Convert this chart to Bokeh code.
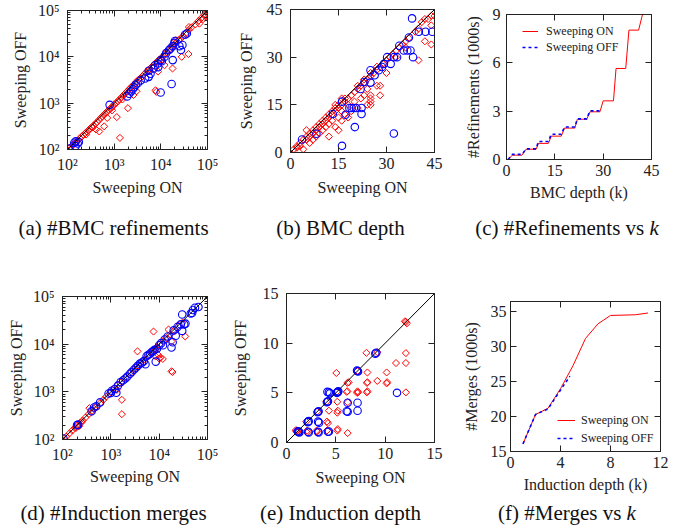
import numpy as np
from bokeh.plotting import figure
from bokeh.models import Range1d, FixedTicker, LinearAxis, LogAxis, Legend, LegendItem, Div
from bokeh.layouts import column, row
from bokeh.embed import file_html
from bokeh.resources import INLINE

FONT = "Liberation Serif"
RED = "#ff0000"
BLUE = "#0000ff"
INK = "#222222"

# ---------------- data ----------------
# (a) #BMC refinements (log-log)
a_red_on = [105, 110, 120, 130, 140, 150, 160, 170, 185, 200, 220, 240, 260, 280, 300, 330, 360, 400, 430, 470,
            520, 560, 600, 650, 700, 760, 820, 880, 950, 1000, 1100, 1200, 1300, 1450, 1600, 1750, 1900, 2100, 2300,
            2500, 2800, 3000, 3300, 3600, 4000, 4400, 4800, 5300, 5800, 6300, 7000, 7600, 8300, 9000, 10000, 11000,
            12000, 13500, 15000, 17000, 19000, 21000, 24000, 27000, 30000, 35000, 40000, 45000, 55000, 65000, 75000,
            85000, 95000, 90000, 80000,
            1330, 1140, 1970, 480, 410, 610, 710, 2600, 3000, 7700, 8000, 17800, 39000, 28000, 12000, 10200, 8700,
            67000, 40000, 21000, 5500, 350, 250, 900, 1500]
a_red_off = [105, 108, 115, 125, 135, 140, 150, 160, 175, 190, 205, 225, 240, 255, 280, 300, 330, 360, 390, 430,
             480, 520, 560, 600, 650, 700, 760, 800, 870, 950, 1000, 1100, 1200, 1350, 1500, 1650, 1800, 2000, 2200,
             2400, 2600, 2900, 3200, 3400, 3800, 4200, 4600, 5000, 5500, 6000, 6600, 7200, 7800, 8500, 9300, 10000,
             11500, 12500, 14000, 16000, 18000, 20000, 23000, 25000, 28000, 33000, 38000, 43000, 50000, 60000, 70000,
             80000, 90000, 75000, 65000,
             178, 500, 780, 245, 270, 316, 480, 1500, 1800, 1900, 1750, 5600, 11500, 10000, 6600, 8500, 4800,
             52000, 44000, 23000, 5200, 300, 210, 700, 1200]
a_blue_on = [110, 140, 150, 148, 165, 175, 800, 1900, 2100, 2300, 2500, 2700, 2900, 3200, 3700, 4600, 5500, 6000,
             5500, 7000, 7500, 8700, 8800, 10000, 10500, 12000, 13000, 15000, 16000, 18000, 19500, 20000, 25000,
             29000, 27000, 33000, 36000, 18000, 9900, 17000]
a_blue_off = [105, 140, 150, 118, 135, 145, 920, 1400, 1600, 1800, 2000, 2200, 2500, 2700, 3100, 3400, 3700, 4300,
              5000, 5600, 6600, 7200, 6000, 8500, 8000, 10000, 12000, 14000, 15000, 17000, 20000, 22000, 17000,
              18000, 14000, 30000, 32000, 8500, 1700, 2600]

# (b) BMC depth
b_red_on = [1, 2, 2, 3, 3, 4, 5, 5, 6, 6, 7, 7, 8, 8, 9, 9, 10, 10, 11, 11, 12, 12, 13, 13, 14, 14, 15, 15, 16, 17,
            17, 18, 19, 20, 21, 21, 22, 23, 23, 24, 25, 25, 26, 27, 27, 28, 29, 30, 31, 32, 33, 34, 35, 36, 37, 39,
            40, 41, 42, 43, 44, 45, 44,
            4, 6, 7, 8, 9, 10, 11, 12, 12, 13, 14, 15, 15, 16, 16, 17, 18, 18, 19, 20, 21, 22, 23, 24, 24, 25, 25,
            25, 25, 28, 28, 27, 30, 33, 40, 42, 44, 36, 5, 14, 16]
b_red_off = [1, 1.5, 2, 3, 2, 4, 4, 5, 5, 6, 6, 7, 7, 8, 8, 9, 9, 10, 10, 11, 11, 12, 12, 13, 13, 14, 14, 15, 15, 16,
             17, 17, 18, 19, 20, 21, 21, 22, 23, 23, 24, 25, 25, 26, 27, 27, 28, 29, 30, 31, 32, 33, 34, 35, 36, 38,
             39, 41, 42, 42, 43, 43, 40,
             1, 3, 4, 5, 6, 7, 8, 5, 9, 10, 8, 7, 11, 10, 13, 12, 11, 15, 13, 16, 14, 17, 18, 15, 20, 16, 17,
             15, 18, 18, 21, 21, 25, 30, 29, 35, 34, 33, 7, 15, 17]
b_blue_on = [3.6, 8.1, 16.1, 20.1, 32.3, 13.2, 16.1, 17.2, 18.4, 19.1, 19.8, 20.5, 22.2, 22.2, 21.9, 23.1, 25.0,
             25.0, 26.3, 27.6, 28.6, 29.2, 30.2, 31.3, 32.3, 33.3, 34.0, 35.4, 36.5, 37.5, 37.0, 38.3, 38.0, 40.1,
             42.2, 44.3]
b_blue_off = [4.1, 5.9, 2.1, 8.0, 6.0, 12.1, 16.0, 11.9, 14.0, 14.0, 14.0, 14.0, 14.0, 12.1, 20.0, 22.2, 22.0,
              25.9, 24.3, 25.9, 26.9, 27.9, 30.0, 27.9, 30.0, 30.0, 33.6, 32.1, 32.1, 32.1, 36.2, 30.0, 42.2, 38.0,
              38.0, 38.0]

# (c) #Refinements vs k
c_k_on = [0.5, 1.8, 4.8, 6.1, 9.2, 9.9, 13.0, 13.9, 17.0, 18.0, 21.2, 22.0, 24.9, 25.9, 29.0, 30.0, 33.2, 34.0,
          37.0, 38.0, 41.0, 42.2]
c_ref_on = [0, 0.27, 0.27, 0.64, 0.64, 1.0, 1.0, 1.45, 1.45, 1.95, 1.95, 2.5, 2.5, 2.96, 2.96, 3.64, 3.64, 5.65,
            5.65, 8.03, 8.03, 9.0]
c_k_off = [0.5, 1.8, 4.8, 6.1, 9.2, 9.9, 13.0, 13.9, 17.0, 18.0, 21.2, 22.0, 24.9, 25.9, 29.0]
c_ref_off = [0, 0.32, 0.32, 0.66, 0.66, 1.12, 1.12, 1.57, 1.57, 2.02, 2.02, 2.52, 2.52, 3.02, 3.02]

# (d) #Induction merges (log-log)
d_red_on = [105, 120, 140, 160, 180, 200, 230, 260, 300, 350, 400, 450, 500, 600, 700, 800, 1000, 1200, 1400, 1700,
            2000, 2500, 3000, 3500, 4000, 5000, 6000, 7000, 8000, 9000, 10000, 12000, 14000, 17000, 20000, 25000,
            30000, 9500, 10000, 8500,
            7640, 3560, 1690, 1690, 18900, 18000, 34600, 11900, 10600, 18000, 15600, 360, 1330, 250, 220, 190]
d_red_off = [105, 115, 135, 155, 175, 195, 225, 250, 290, 340, 390, 440, 490, 580, 680, 790, 980, 1200, 1400, 1650,
             2000, 2500, 3000, 3400, 4000, 4800, 5800, 6800, 7800, 8500, 9800, 11500, 13500, 16000, 19000, 24000,
             28000, 6000, 5000, 5500,
             18400, 7060, 680, 340, 2600, 2700, 14500, 4900, 5200, 11400, 20300, 455, 1100, 230, 190, 175]
d_blue_on = [105, 200, 210, 400, 450, 500, 600, 900, 1000, 1050, 1200, 1300, 1400, 1600, 1800, 2000, 2200, 2500,
             2700, 3000, 3300, 3600, 4000, 4400, 4800, 5200, 5500, 6000, 6500, 7000, 7500, 8000, 8500, 9000, 10000,
             11000, 12000, 13000, 15000, 18000, 19000, 20000, 22000, 24000, 28000, 30000, 30000, 33000, 35000,
             45000, 50000, 55000, 65000, 48000]
d_blue_off = [105, 200, 205, 390, 470, 500, 600, 920, 950, 1050, 1150, 960, 1350, 1600, 1750, 1900, 2100, 2400,
              2600, 2900, 3200, 3500, 3900, 4100, 4400, 3800, 5600, 6000, 6300, 6800, 7200, 7600, 4300, 8000, 9500,
              10500, 9500, 12500, 14500, 8500, 11000, 19500, 15000, 23000, 26000, 19000, 42000, 26000, 27000,
              44000, 52000, 58000, 60000, 45000]

# (e) Induction depth
e_red_on = [1.0, 1.05, 0.95, 2.1, 2.1, 3.1, 3.05, 4.1, 4.1, 4.2, 5.15, 5.2, 6.2, 4.3, 5.2, 5.15, 6.2, 5.15, 6.17,
            6.1, 7.2, 7.25, 7.15, 8.2, 8.15, 8.2, 8.15, 10.2, 10.15, 9.2, 6.17, 6.3, 5.05, 8.2, 10.15, 8.1, 11.1,
            12.1, 12.1, 12.1, 12.1, 12.0, 12.2, 2.0, 3.1, 4.05, 5.1, 7.2, 9.2, 1.1]
e_red_off = [1.1, 1.2, 1.25, 1.2, 1.0, 1.1, 1.2, 1.2, 2.1, 1.95, 1.2, 1.35, 0.95, 3.2, 3.2, 3.0, 4.05, 4.1, 5.15,
             5.1, 5.15, 5.05, 5.0, 5.15, 5.05, 6.07, 6.0, 6.07, 5.95, 6.2, 6.0, 6.05, 7.0, 7.05, 7.05, 9.03, 8.0,
             8.0, 9.0, 5.05, 12.13, 12.2, 12.0, 2.1, 3.1, 4.1, 5.1, 7.2, 9.1, 1.05]
e_blue_on = [1.2, 1.25, 1.3, 1.15, 2.2, 2.25, 3.2, 3.25, 4.2, 4.3, 2.2, 2.25, 2.15, 3.2, 3.25, 3.15, 3.2, 3.3, 4.15,
             4.2, 4.1, 4.15, 4.3, 4.4, 5.15, 5.2, 5.1, 5.25, 6.2, 6.2, 6.1, 7.2, 7.2, 7.2, 7.25, 7.15, 9.1, 9.0, 11.2]
e_blue_off = [1.05, 1.1, 1.0, 1.12, 1.08, 1.0, 1.08, 1.0, 1.08, 1.1, 2.1, 2.15, 2.05, 3.1, 3.15, 3.05, 2.1, 2.0,
              4.1, 4.15, 4.05, 5.1, 5.05, 4.95, 5.05, 5.1, 5.0, 5.15, 4.0, 3.1, 3.15, 4.0, 3.2, 7.2, 7.15, 7.25,
              9.03, 8.95, 5.0]

# (f) #Merges vs k
f_k_on = [1, 2, 3, 4, 5, 6, 7, 8, 10, 11]
f_mer_on = [16.1, 20.3, 21.2, 24.0, 27.3, 31.2, 33.3, 34.5, 34.6, 34.85]
f_k_off = [1, 2, 3, 4, 4.75]
f_mer_off = [16.1, 20.3, 21.1, 23.8, 25.8]

LOG_MAJOR = [100, 1000, 10000, 100000]
LOG_MINOR = [m * 10 ** e for e in range(2, 5) for m in range(2, 10)]
LOG_LABELS = {100: "10²", 1000: "10³", 10000: "10⁴", 100000: "10⁵"}


# ---------------- helpers ----------------
def make_fig(w, h, l, r, t, b, xr, yr, log=False):
    kind = "log" if log else "linear"
    p = figure(width=w, height=h, min_border_left=l, min_border_right=r, min_border_top=t,
               min_border_bottom=b, x_range=xr, y_range=yr, x_axis_type=kind, y_axis_type=kind,
               output_backend="svg", toolbar_location=None)
    p.frame_align = False
    p.grid.visible = False
    p.outline_line_color = INK
    p.outline_line_width = 1
    p.outline_line_alpha = 1
    p.background_fill_color = "white"
    p.border_fill_color = "white"
    return p


def style_axis(ax, ticks, minor=None, labels=None, standoff=5, label=None, lstand=8, show=True):
    ax.ticker = FixedTicker(ticks=ticks, minor_ticks=minor or [])
    ax.major_tick_in = 6
    ax.major_tick_out = 0
    ax.minor_tick_in = 3
    ax.minor_tick_out = 0
    ax.major_tick_line_color = INK
    ax.minor_tick_line_color = INK if minor else None
    ax.axis_line_color = INK
    ax.major_label_text_font = FONT
    ax.major_label_text_font_size = "16px"
    ax.major_label_text_color = INK
    ax.major_label_standoff = standoff
    if labels:
        ax.major_label_overrides = labels
    if label:
        ax.axis_label = label
        ax.axis_label_text_font = FONT
        ax.axis_label_text_font_size = "16px"
        ax.axis_label_text_font_style = "normal"
        ax.axis_label_text_color = INK
        ax.axis_label_standoff = lstand
    if not show:
        ax.major_label_text_font_size = "2px"
        ax.major_label_text_color = None
        ax.major_label_standoff = 0


def add_axes(p, xt, yt, xminor=None, yminor=None, xlabels=None, ylabels=None, xlabel="", ylabel="",
             xs=5, ys=5, xls=6, yls=8, log=False):
    style_axis(p.xaxis[0], xt, xminor, xlabels, xs, xlabel, xls)
    style_axis(p.yaxis[0], yt, yminor, ylabels, ys, ylabel, yls)
    Ax = LogAxis if log else LinearAxis
    top = Ax()
    right = Ax()
    style_axis(top, xt, xminor, show=False)
    style_axis(right, yt, yminor, show=False)
    p.add_layout(top, "above")
    p.add_layout(right, "right")


def diamonds(p, x, y):
    p.scatter(x, y, marker="square", angle=np.pi / 4, size=5, fill_color=None, line_color=RED, line_width=1)


def circles(p, x, y):
    p.scatter(x, y, marker="circle", size=7.5, fill_color=None, line_color=BLUE, line_width=1.1)


def diag(p, lo, hi):
    p.line([lo, hi], [lo, hi], line_color="black", line_width=1)


def caption(html, w, h):
    return Div(text=html, width=w, height=h, margin=0,
               styles={"font-family": FONT, "font-size": "21px", "text-align": "center",
                       "line-height": "%dpx" % h, "color": "#111111"})


# ---------------- (a) ----------------
fa = make_fig(227, 213, 67, 20, 10, 64, Range1d(100, 100000), Range1d(100, 100000), log=True)
diamonds(fa, a_red_on, a_red_off)
circles(fa, a_blue_on, a_blue_off)
diag(fa, 100, 100000)
add_axes(fa, LOG_MAJOR, LOG_MAJOR, LOG_MINOR, LOG_MINOR, LOG_LABELS, LOG_LABELS,
         "Sweeping ON", "Sweeping OFF", xs=6, ys=8, xls=3, yls=6, log=True)

# ---------------- (b) ----------------
fb = make_fig(227, 213, 63, 20, 9, 61, Range1d(0, 45), Range1d(0, 45))
diamonds(fb, b_red_on, b_red_off)
circles(fb, b_blue_on, b_blue_off)
diag(fb, 0, 45)
add_axes(fb, [0, 15, 30, 45], [0, 15, 30, 45], xlabel="Sweeping ON", ylabel="Sweeping OFF",
         xs=5, ys=8, xls=7, yls=9)

# ---------------- (c) ----------------
fc = make_fig(226, 213, 52, 29, 14, 54, Range1d(0, 45), Range1d(0, 9))
rc1 = fc.line(c_k_on, c_ref_on, line_color=RED, line_width=1)
rc2 = fc.line(c_k_off, c_ref_off, line_color=BLUE, line_width=1.6, line_dash="3 3")
add_axes(fc, [0, 15, 30, 45], [0, 3, 6, 9], xlabel="BMC depth (k)", ylabel="#Refinements (1000s)",
         xs=5, ys=6, xls=5, yls=8)
leg_c = Legend(items=[LegendItem(label="Sweeping ON", renderers=[rc1]),
                      LegendItem(label="Sweeping OFF", renderers=[rc2])],
               location=(16, 104), border_line_color=None, background_fill_alpha=0, padding=0, margin=0,
               spacing=0, glyph_width=16, glyph_height=16, label_height=16, label_standoff=8,
               label_text_font=FONT, label_text_font_size="12px", label_text_color=INK)
fc.add_layout(leg_c)

# ---------------- (d) ----------------
fd = make_fig(227, 254, 62, 20, 53, 58, Range1d(100, 100000), Range1d(100, 100000), log=True)
diamonds(fd, d_red_on, d_red_off)
circles(fd, d_blue_on, d_blue_off)
diag(fd, 100, 100000)
add_axes(fd, LOG_MAJOR, LOG_MAJOR, LOG_MINOR, LOG_MINOR, LOG_LABELS, LOG_LABELS,
         "Sweeping ON", "Sweeping OFF", xs=6, ys=8, xls=2, yls=5, log=True)

# ---------------- (e) ----------------
fe = make_fig(227, 254, 59, 20, 50, 55, Range1d(0, 15), Range1d(0, 15))
diamonds(fe, e_red_on, e_red_off)
circles(fe, e_blue_on, e_blue_off)
diag(fe, 0, 15)
add_axes(fe, [0, 5, 10, 15], [0, 5, 10, 15], xlabel="Sweeping ON", ylabel="Sweeping OFF",
         xs=5, ys=8, xls=7, yls=11)

# ---------------- (f) ----------------
ff = make_fig(226, 254, 56, 20, 58, 46, Range1d(0, 12), Range1d(15, 36.5))
rf1 = ff.line(f_k_on, f_mer_on, line_color=RED, line_width=1)
rf2 = ff.line(f_k_off, f_mer_off, line_color=BLUE, line_width=1.6, line_dash="3 3")
add_axes(ff, [0, 4, 8, 12], [15, 20, 25, 30, 35], xlabel="Induction depth (k)", ylabel="#Merges (1000s)",
         xs=5, ys=4, xls=5, yls=8)
leg_f = Legend(items=[LegendItem(label="Sweeping ON", renderers=[rf1]),
                      LegendItem(label="Sweeping OFF", renderers=[rf2])],
               location=(47, 4), border_line_color=None, background_fill_alpha=0, padding=0, margin=0,
               spacing=0, glyph_width=18, glyph_height=18, label_height=18, label_standoff=6,
               label_text_font=FONT, label_text_font_size="12px", label_text_color=INK)
ff.add_layout(leg_f)

# ---------------- captions ----------------
cap_a = caption("(a) #BMC refinements", 227, 30)
cap_b = caption("(b) BMC depth", 227, 30)
cap_c = caption("(c) #Refinements vs <i>k</i>", 226, 30)
cap_d = caption("(d) #Induction merges", 227, 33)
cap_e = caption("(e) Induction depth", 227, 33)
cap_f = caption("(f) #Merges vs <i>k</i>", 226, 33)

layout = column(row(fa, fb, fc), row(cap_a, cap_b, cap_c), row(fd, fe, ff), row(cap_d, cap_e, cap_f))

open("out.html", "w").write(file_html(layout, INLINE))
